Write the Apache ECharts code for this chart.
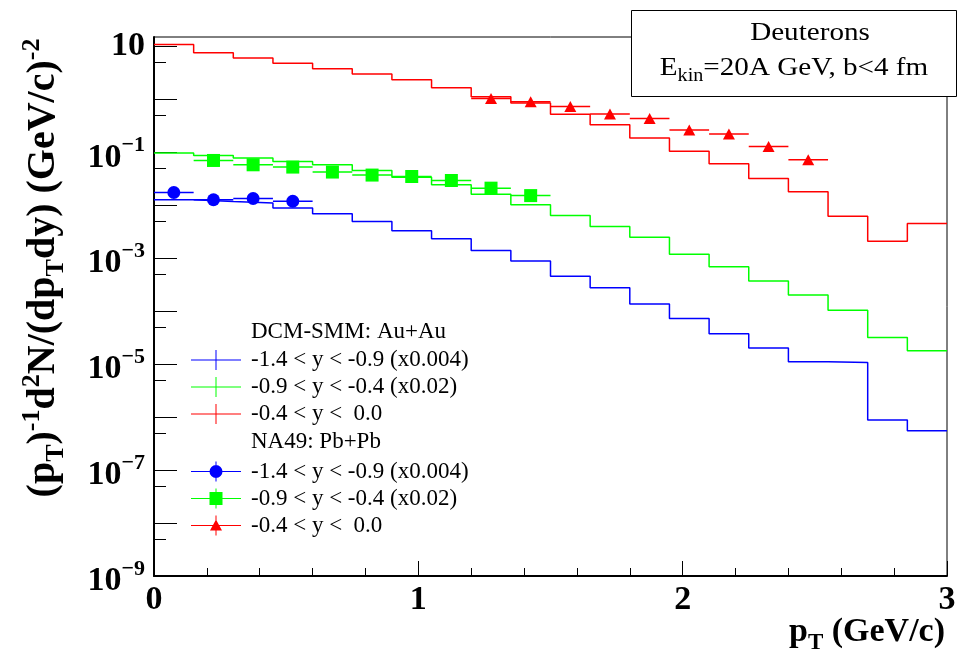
<!DOCTYPE html>
<html><head><meta charset="utf-8">
<script src="https://cdn.jsdelivr.net/npm/echarts@6/dist/echarts.min.js"></script>
<style>html,body{margin:0;padding:0;background:#fff}#c{width:959px;height:668px}</style>
</head><body><div id="c"></div>
<script>
// ---- data ----
const binEdges = [0,0.15,0.3,0.45,0.6,0.75,0.9,1.05,1.2,1.35,1.5,1.65,1.8,1.95,2.1,2.25,2.4,2.55,2.7,2.85,3.0];
const dcmBlue  = [0.01265,0.0117,0.0110,0.0089,0.00687,0.00492,0.00328,0.00232,0.00139,0.00089,0.000457,0.000276,0.000137,0.0000724,0.0000376,0.0000201,0.0000111,0.0000107,8.8e-7,5.5e-7];
const dcmGreen = [0.0966,0.0871,0.0776,0.067,0.058,0.0453,0.0339,0.0243,0.0162,0.0102,0.00638,0.00396,0.00249,0.00119,0.000693,0.000371,0.000202,0.000104,0.0000318,0.0000179];
const dcmRed   = [10.8,7.6,6.0,4.78,3.78,3.0,2.35,1.66,1.12,0.85,0.52,0.33,0.186,0.104,0.061,0.032,0.0179,0.0062,0.0021,0.0045];
const naBlueX  = [0.075,0.225,0.375,0.525];
const naBlueY  = [0.0174,0.0127,0.0134,0.0119];
const naGreenX = [0.225,0.375,0.525,0.675,0.825,0.975,1.125,1.275,1.425];
const naGreenY = [0.070,0.058,0.0525,0.0423,0.0371,0.0349,0.0293,0.021,0.0152];
const naRedX   = [1.275,1.425,1.575,1.725,1.875,2.025,2.175,2.325,2.475];
const naRedY   = [1.03,0.90,0.735,0.527,0.436,0.263,0.221,0.129,0.072];
const naXErr   = 0.075;
const yMajorTicks = [1e-9,1e-8,1e-7,1e-6,1e-5,1e-4,1e-3,1e-2,1e-1,1,10];
const yMinorTicks = [5e-9,5e-8,5e-7,5e-6,5e-5,5e-4,5e-3,5e-2,5e-1,5];
const yTickLabels = [1e-9,1e-7,1e-5,1e-3,1e-1,10];
const legendLabels = {
  dcmBlue: '-1.4 < y < -0.9 (x0.004)',
  dcmGreen: '-0.9 < y < -0.4 (x0.02)',
  dcmRed: '-0.4 < y <  0.0',
  naBlue: '-1.4 < y < -0.9 (x0.004)',
  naGreen: '-0.9 < y < -0.4 (x0.02)',
  naRed: '-0.4 < y <  0.0'
};
// ---- build ----
const SERIF = 'Liberation Serif';
const BLUE = '#0000ff', GREEN = '#00ff00', RED = '#ff0000';
const Y_MIN = 1e-9, Y_MAX = 15;
function histData(vals){ return binEdges.map((e,i)=>[e, vals[Math.min(i, vals.length-1)]]); }
function pts(xs, ys){ return xs.map((x,i)=>[x, ys[i]]); }
function histSeries(name, vals, color){
  return {name, type:'line', step:'end', data:histData(vals), symbol:'none', showSymbol:false,
    color, lineStyle:{color, width:1.5}, itemStyle:{color}, z:2, silent:true};
}
function errSeries(name, xs, ys, color){
  return {name, type:'custom', data:pts(xs, ys), z:3, silent:true,
    renderItem:(p, api)=>{
      const x = api.value(0), y = api.value(1);
      const a = api.coord([x - naXErr, y]), b = api.coord([x + naXErr, y]);
      return {type:'line', shape:{x1:a[0], y1:a[1], x2:b[0], y2:b[1]}, style:{stroke:color, lineWidth:1.5}};
    }};
}
function markSeries(name, xs, ys, color, symbol, size){
  return {name, type:'scatter', data:pts(xs, ys), symbol, symbolSize:size, color,
    itemStyle:{color, opacity:1}, z:4, silent:true};
}
const ICON_LINE = 'path://M0,9.5h50v1h-50Z M24.5,0h1v20h-1Z';
const ICON_CIRC = 'path://M0,9.5h50v1h-50Z M24.5,0h1v20h-1Z M18.5,10a6.5,6.5 0 1,1 13,0a6.5,6.5 0 1,1 -13,0Z';
const ICON_SQ   = 'path://M0,9.5h50v1h-50Z M24.5,0h1v20h-1Z M18.5,3.5h13v13h-13Z';
const ICON_TRI  = 'path://M0,9.5h50v1h-50Z M24.5,0h1v20h-1Z M25,4L31,15L19,15Z';
const legendCommon = {orient:'vertical', left:191, padding:0, itemGap:0, itemWidth:50, itemHeight:20,
  selectedMode:false, formatter:n=>legendLabels[n], itemStyle:{borderWidth:0},
  textStyle:{fontFamily:SERIF, fontSize:23, color:'#000', lineHeight:27, padding:[0,0,0,5]}};

const option = {
  animation:false,
  backgroundColor:'#fff',
  grid:{left:154, right:12, top:37, bottom:92, show:true, borderColor:'#000', borderWidth:1, backgroundColor:'transparent'},
  xAxis:{type:'value', min:0, max:3, interval:1,
    axisLine:{lineStyle:{color:'#000', width:2}},
    axisTick:{inside:true, length:15, lineStyle:{color:'#000'}},
    minorTick:{show:true, splitNumber:5, length:8, lineStyle:{color:'#000'}},
    splitLine:{show:false},
    axisLabel:{color:'#000', fontFamily:SERIF, fontWeight:'bold', fontSize:34, margin:7}},
  yAxis:[
    {type:'log', logBase:10, min:Y_MIN, max:Y_MAX, interval:1,
    axisLine:{lineStyle:{color:'#000', width:2}},
    axisTick:{inside:true, length:23, lineStyle:{color:'#000'}, customValues:yMajorTicks},
    splitLine:{show:false},
    axisLabel:{margin:9, color:'#000', customValues:yTickLabels,
      formatter:(v)=>{
        const e = Math.round(Math.log10(v));
        if (e === 1) return '{a|10}';
        return '{b|10}{e|\u2212' + (-e) + '}';
      },
      rich:{
        a:{fontFamily:SERIF, fontWeight:'bold', fontSize:34, lineHeight:34, color:'#000'},
        b:{fontFamily:SERIF, fontWeight:'bold', fontSize:34, lineHeight:34, padding:[11,0,0,0], color:'#000'},
        e:{fontFamily:SERIF, fontWeight:'bold', fontSize:22, lineHeight:34, padding:[0,0,14,0], color:'#000'}
      }}},
    {type:'log', logBase:10, min:Y_MIN, max:Y_MAX, interval:1, position:'left',
    axisLine:{show:false}, splitLine:{show:false}, axisLabel:{show:false},
    axisTick:{inside:true, length:12, lineStyle:{color:'#000'}, customValues:yMinorTicks}}
  ],
  legend:[
    Object.assign({top:346.5, data:[{name:'dcmBlue', icon:ICON_LINE},{name:'dcmGreen', icon:ICON_LINE},{name:'dcmRed', icon:ICON_LINE}]}, legendCommon),
    Object.assign({top:458, data:[{name:'naBlue', icon:ICON_CIRC},{name:'naGreen', icon:ICON_SQ},{name:'naRed', icon:ICON_TRI}]}, legendCommon)
  ],
  graphic:[
    {type:'text', x:44, y:268, rotation:Math.PI/2, z:50,
     style:{text:'{b|(p}{s|T}{b|)}{u|-1}{b|d}{u|2}{b|N/(dp}{s|T}{b|dy) (GeV/c)}{u|-2}',
       align:'center', verticalAlign:'middle', textAlign:'center', textVerticalAlign:'middle', fill:'#000',
       rich:{
         b:{fontFamily:SERIF, fontWeight:'bold', fontSize:40, lineHeight:46},
         s:{fontFamily:SERIF, fontWeight:'bold', fontSize:26, lineHeight:46, padding:[24,0,0,0]},
         u:{fontFamily:SERIF, fontWeight:'bold', fontSize:26, lineHeight:46, padding:[0,0,24,0]}
       }}},
    {type:'text', x:945, y:632, z:50,
     style:{text:'{b|p}{s|T}{b| (GeV/c)}', align:'right', verticalAlign:'middle', textAlign:'right', textVerticalAlign:'middle', fill:'#000',
       rich:{
         b:{fontFamily:SERIF, fontWeight:'bold', fontSize:34, lineHeight:40},
         s:{fontFamily:SERIF, fontWeight:'bold', fontSize:23, lineHeight:40, padding:[22,0,0,0]}
       }}},
    {type:'rect', z:100, shape:{x:631.5, y:10.5, width:325, height:86}, style:{fill:'#fff', stroke:'#000', lineWidth:1}},
    {type:'text', x:810, y:33, scaleX:1.12, z:101,
     style:{text:'Deuterons', font:'26px "Liberation Serif"', fill:'#000', align:'center', verticalAlign:'middle', textAlign:'center', textVerticalAlign:'middle'}},
    {type:'text', x:794, y:68, scaleX:1.12, z:101,
     style:{text:'{n|E}{k|kin}{n|=20A GeV, b<4 fm}', fill:'#000', align:'center', verticalAlign:'middle', textAlign:'center', textVerticalAlign:'middle',
       rich:{
         n:{fontFamily:SERIF, fontSize:26, lineHeight:30},
         k:{fontFamily:SERIF, fontSize:18, lineHeight:30, padding:[16,0,0,0]}
       }}},
    {type:'text', x:251, y:332, z:50,
     style:{text:'DCM-SMM: Au+Au', font:'23px "Liberation Serif"', fill:'#000', align:'left', verticalAlign:'middle', textAlign:'left', textVerticalAlign:'middle'}},
    {type:'text', x:251, y:442, z:50,
     style:{text:'NA49: Pb+Pb', font:'23px "Liberation Serif"', fill:'#000', align:'left', verticalAlign:'middle', textAlign:'left', textVerticalAlign:'middle'}}
  ],
  series:[
    histSeries('dcmBlue', dcmBlue, BLUE),
    histSeries('dcmGreen', dcmGreen, GREEN),
    histSeries('dcmRed', dcmRed, RED),
    errSeries('naBlueErr', naBlueX, naBlueY, BLUE),
    errSeries('naGreenErr', naGreenX, naGreenY, GREEN),
    errSeries('naRedErr', naRedX, naRedY, RED),
    markSeries('naBlue', naBlueX, naBlueY, BLUE, 'circle', 13),
    markSeries('naGreen', naGreenX, naGreenY, GREEN, 'rect', 13),
    markSeries('naRed', naRedX, naRedY, RED, 'triangle', [12, 11])
  ]
};
const chart = echarts.init(document.getElementById('c'), null, {renderer:'canvas'});
chart.setOption(option);
</script>
</body></html>
